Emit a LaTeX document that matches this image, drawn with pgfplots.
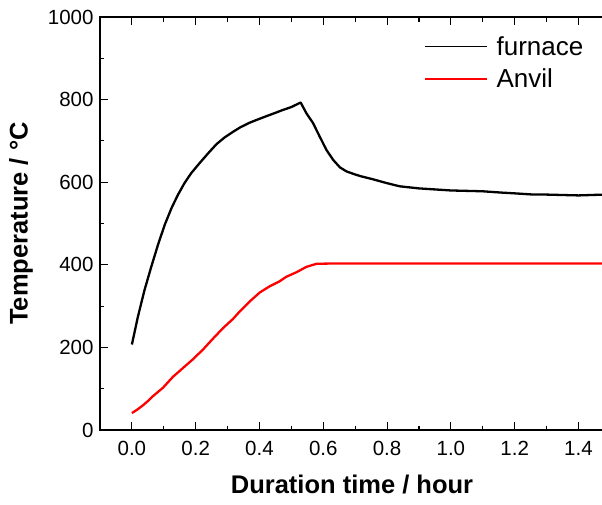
\documentclass[border=0pt]{standalone}
\usepackage{fontspec}
\setmainfont{Liberation Sans}
\usepackage{pgfplots}
\pgfplotsset{compat=1.18}
\usetikzlibrary{calc}
\begin{document}
\begin{tikzpicture}
\begin{axis}[
  scale only axis, width=504pt, height=413pt,
  xmin=-0.1, xmax=1.48, ymin=0, ymax=1000,
  axis line style={line width=1.3pt},
  tick align=inside,
  xtick pos=both, ytick pos=left,
  major tick length=8pt, minor tick length=4.5pt,
  every tick/.style={line width=1.1pt, black},
  xtick={0,0.2,...,1.41}, minor xtick={-0.1,0.1,0.3,0.5,0.7,0.9,1.1,1.3},
  ytick={0,200,...,1000}, minor ytick={100,300,500,700,900},
  /pgf/number format/assume math mode=true,
  xticklabel style={yshift=-8pt, /pgf/number format/.cd, fixed, fixed zerofill, precision=1},
  yticklabel style={xshift=-3pt, /pgf/number format/.cd, fixed, precision=0, 1000 sep={}},
  tick label style={font=\fontsize{20.5}{24}\selectfont},
  xlabel={\textbf{Duration time / hour}},
  ylabel={\textbf{Temperature / °C}},
  xlabel style={yshift=-12pt},
  ylabel style={yshift=8pt},
  label style={font=\fontsize{25.5}{30}\selectfont},
  legend style={draw=none, fill=none, at={(rel axis cs:0.644,0.958)}, anchor=north west,
    font=\fontsize{26}{30}\selectfont, inner sep=0pt, row sep=8pt,
    nodes={inner xsep=4pt, inner ysep=2pt}},
  legend cell align=left,
  legend image code/.code={\draw[#1, line width=1.3pt] (0pt,0pt) -- (62pt,0pt);\path (66pt,0pt);},
]
\addplot[black, line width=2.3pt, line join=round] coordinates {
(0,207) (0.019,275) (0.040,340) (0.061,396) (0.082,449) (0.103,497) (0.124,537)
(0.144,569) (0.165,598) (0.186,622) (0.212,646) (0.239,670) (0.265,692) (0.29,708)
(0.317,722) (0.34,733) (0.369,744) (0.395,752) (0.422,760) (0.45,768) (0.47,774)
(0.50,782) (0.516,788) (0.529,793) (0.547,767) (0.568,743) (0.589,710)
(0.610,678) (0.631,654) (0.652,636) (0.673,626) (0.695,620) (0.715,615)
(0.756,607) (0.798,598) (0.84,590) (0.9,585) (1.0,580)
(1.1,578) (1.155,575) (1.2,573) (1.26,570) (1.3,570) (1.4,568) (1.48,570)
};
\addlegendentry{furnace}
\addplot[red, line width=2.3pt, line join=round] coordinates {
(0,41) (0.018,50) (0.035,60) (0.05,70) (0.066,82) (0.097,102) (0.129,129)
(0.160,150) (0.191,171) (0.223,195) (0.254,221) (0.286,247) (0.317,269)
(0.338,287) (0.369,311) (0.401,333) (0.432,348) (0.463,360) (0.484,371)
(0.516,382) (0.547,395) (0.579,402.5) (0.62,403) (1.48,403)
};
\addlegendentry{Anvil}
\end{axis}
\pgfresetboundingbox
\path[use as bounding box] ($(current axis.south west)+(-100pt,-74pt)$) rectangle ($(current axis.north east)+(-2pt,17pt)$);
\end{tikzpicture}
\end{document}
